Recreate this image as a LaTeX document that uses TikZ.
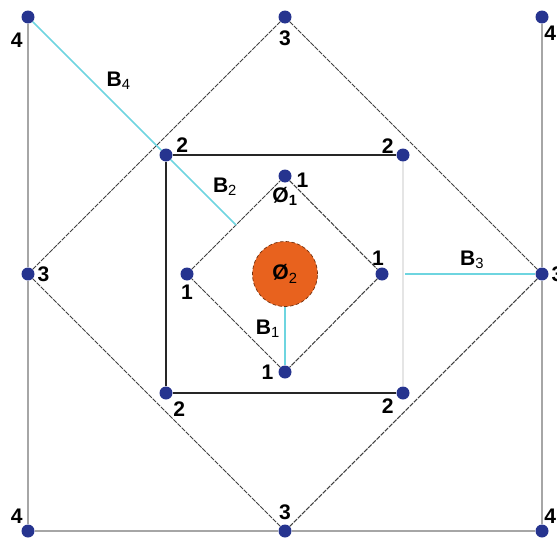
\documentclass[tikz,border=0pt]{standalone}
\usepackage{fontspec}
\setmainfont{Liberation Sans}
\usetikzlibrary{positioning, calc}
\definecolor{ringblue}{HTML}{26348F}
\definecolor{ringorange}{HTML}{E8621E}
\definecolor{ringcyan}{HTML}{6ED5E0}
\definecolor{ringgray}{HTML}{404040}

\begin{document}
\begin{tikzpicture}[
  x=0.3mm, y=-0.3mm,
  pt/.style={circle, fill=ringblue, inner sep=0pt, minimum size=3.9mm},
  num/.style={font=\fontsize{18}{18}\selectfont\bfseries, inner sep=0pt},
  blabel/.style={font=\fontsize{18}{18}\selectfont, inner sep=2pt},
  outline/.style={draw=black!35, line width=1pt},
  frame/.style={draw=black!85, line width=1.5pt},
  diag/.style={draw=ringgray, line width=0.9pt, dash pattern=on 4pt off 1pt},
  bline/.style={draw=ringcyan, line width=1.3pt}
]
  \useasboundingbox (0,0) rectangle (557,539);

  \node[pt] (c4tl) at (28,17) {};
  \node[pt] (c4tr) at (542,17) {};
  \node[pt] (c4bl) at (28,531) {};
  \node[pt] (c4br) at (542,531) {};
  \node[pt] (c3t) at (285,17) {};
  \node[pt] (c3l) at (28,274) {};
  \node[pt] (c3r) at (542,274) {};
  \node[pt] (c3b) at (285,531) {};
  \node[pt] (c2tl) at (166,155) {};
  \node[pt] (c2tr) at (403,155) {};
  \node[pt] (c2bl) at (166,393) {};
  \node[pt] (c2br) at (403,393) {};
  \node[pt] (c1t) at (285,176) {};
  \node[pt] (c1l) at (187,274) {};
  \node[pt] (c1r) at (382,274) {};
  \node[pt] (c1b) at (285,372) {};
  \node[circle, fill=ringorange, draw=ringorange!50!black, densely dashed, line width=0.6pt,
    minimum size=19.5mm, inner sep=0pt, font=\fontsize{18}{18}\selectfont]
    (core) at (285,274) {\textbf{Ø}\textsubscript{2}};

  \draw[outline] (c4tl) -- (c3l) -- (c4bl) -- (c3b) -- (c4br) -- (c3r) -- (c4tr);
  \draw[frame] (c2br) -- (c2bl) -- (c2tl) -- (c2tr);
  \draw[outline, draw=black!10] (c2tr) -- (c2br);
  \draw[diag] (c3t) -- (c3r) -- (c3b) -- (c3l) -- (c3t);
  \draw[diag] (c1t) -- (c1r) -- (c1b) -- (c1l) -- (c1t);

  \coordinate (m1) at ($(c1l)!0.5!(c1t)$);
  \draw[bline] (c4tl) -- node[blabel, pos=0.55, above right] {\textbf{B}\textsubscript{4}} (c2tl);
  \draw[bline] (c2tl) -- node[blabel, pos=0.6, above right] {\textbf{B}\textsubscript{2}} (m1);
  \draw[bline] (core) -- node[blabel, pos=0.37, left=0.6mm] {\textbf{B}\textsubscript{1}} (c1b);
  \draw[bline, shorten <=5mm] (c1r) -- node[blabel, pos=0.57, above=0.6mm] {\textbf{B}\textsubscript{3}} (c3r);

  \node[num, below left=3.3mm and 0.15mm of c4tl] {4};
  \node[num, below right=1.2mm and -0.75mm of c4tr] {4};
  \node[num, above left=0.9mm and 0.15mm of c4bl] {4};
  \node[num, above right=0.7mm and -0.75mm of c4br] {4};
  \node[num, below=2.1mm of c3t] {3};
  \node[num, right=0.8mm of c3l] {3};
  \node[num, right=0.8mm of c3r] {3};
  \node[num, above=1.2mm of c3b] {3};
  \node[num, above right=-0.6mm and 1.65mm of c2tl] {2};
  \node[num, above left=-0.9mm and 1.35mm of c2tr] {2};
  \node[num, below right=1.2mm and 0.75mm of c2bl] {2};
  \node[num, below left=0.3mm and 1.35mm of c2br] {2};
  \node[num, right=1.4mm of c1t, yshift=-1.2mm] {1};
  \node[num, below=1.2mm of c1l] {1};
  \node[num, above=0.6mm of c1r, xshift=-1.2mm] {1};
  \node[num, left=1.4mm of c1b] {1};
  \node[num, below=1.2mm of c1t] {Ø\textsubscript{1}};
\end{tikzpicture}
\end{document}
